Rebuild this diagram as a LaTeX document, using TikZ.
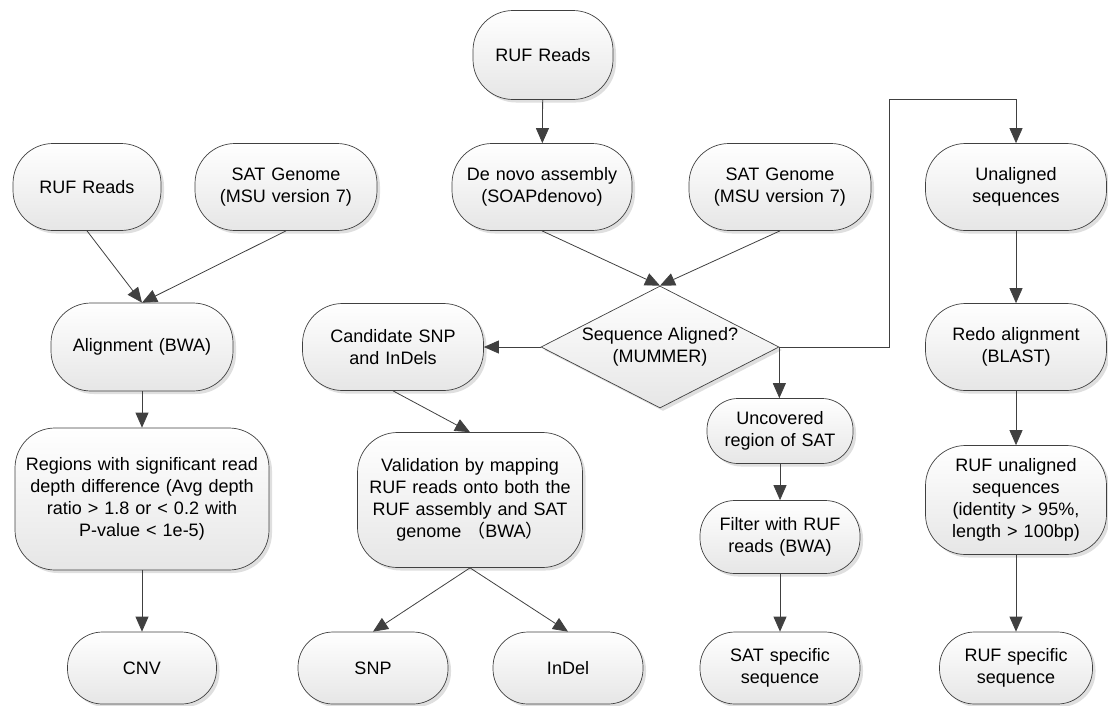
\documentclass[tikz,border=0pt]{standalone}
\usepackage{fontspec}
\setmainfont{Liberation Sans}
\newfontfamily\cjk{Noto Sans CJK SC}
\usetikzlibrary{shapes.geometric,arrows.meta,shadows}
\definecolor{edgegray}{HTML}{404040}
\definecolor{fillbot}{HTML}{E6E6E6}
\tikzset{
  flowbox/.style={rectangle, rounded corners=40pt, draw=edgegray, line width=0.7pt,
    top color=white, bottom color=fillbot, align=center, inner sep=0pt,
    font=\fontsize{18}{22}\selectfont,
    drop shadow={shadow xshift=3pt, shadow yshift=-3pt, fill=black!25, opacity=0.5}},
  sz/.style 2 args={minimum width=#1pt, minimum height=#2pt, text width=#1pt-16pt},
  decision/.style={diamond, draw=edgegray, line width=0.7pt, top color=white, bottom color=fillbot,
    align=center, inner sep=0pt, aspect=1.95, minimum width=238pt, minimum height=122pt,
    font=\fontsize{18}{22}\selectfont,
    drop shadow={shadow xshift=3pt, shadow yshift=-3pt, fill=black!25, opacity=0.5}},
  arr/.style={draw=edgegray, line width=0.8pt, -{Triangle[length=15pt,width=13pt]}, color=edgegray},
}
\begin{document}
\begin{tikzpicture}[x=1pt,y=-1pt]
\useasboundingbox (0,0) rectangle (1108,705);
% top row
\node[flowbox, sz={140}{89}] (ruf1) at (543,55) {RUF Reads};
\node[flowbox, sz={148}{87}] (ruf0) at (87,187) {RUF Reads};
\node[flowbox, sz={182}{87}] (sat1) at (286,187) {SAT Genome\\(MSU version 7)};
\node[flowbox, sz={180}{87}] (denovo) at (542,187) {De novo assembly\\(SOAPdenovo)};
\node[flowbox, sz={182}{87}] (sat2) at (780,187) {SAT Genome\\(MSU version 7)};
\node[flowbox, sz={181}{87}] (unal) at (1016,187) {Unaligned\\sequences};
% middle row
\node[flowbox, sz={182}{88}] (align) at (142,347) {Alignment (BWA)};
\node[flowbox, sz={181}{87}] (cand) at (393,347) {Candidate SNP\\and InDels};
\node[decision] (dec) at (660,347) {Sequence Aligned?\\(MUMMER)};
\node[flowbox, sz={181}{87}] (redo) at (1016,347) {Redo alignment\\(BLAST)};
% lower rows
\node[flowbox, sz={254}{142}] (regions) at (142,499) {Regions with significant read\\depth difference (Avg depth\\ratio > 1.8 or < 0.2 with\\P-value < 1e-5)};
\node[flowbox, sz={225}{135}] (valid) at (470,500) {Validation by mapping\\RUF reads onto both the\\RUF assembly and SAT\\genome {\cjk （}BWA{\cjk ）}};
\node[flowbox, rounded corners=31pt, sz={146}{65}] (uncov) at (780,431) {Uncovered\\region of SAT};
\node[flowbox, rounded corners=35pt, sz={160}{73}] (filter) at (780,537) {Filter with RUF\\reads (BWA)};
\node[flowbox, sz={181}{109}] (rufun) at (1016,500) {RUF unaligned\\sequences\\(identity > 95\%,\\length > 100bp)};
% bottom row
\node[flowbox, rounded corners=35pt, sz={149}{72}] (cnv) at (142,668) {CNV};
\node[flowbox, rounded corners=35pt, sz={150}{72}] (snp) at (373,668) {SNP};
\node[flowbox, rounded corners=35pt, sz={150}{72}] (indel) at (568,668) {InDel};
\node[flowbox, rounded corners=35pt, sz={160}{72}] (satspec) at (780,668) {SAT specific\\sequence};
\node[flowbox, rounded corners=35pt, sz={153}{72}] (rufspec) at (1016,668) {RUF specific\\sequence};
\coordinate (bend) at (889,99);
% connectors
\draw[arr] (ruf1) -- (denovo);
\draw[arr] (denovo.south) -- (dec.north);
\draw[arr] (sat2.south) -- (dec.north);
\draw[arr] (ruf0.south) -- (align.north);
\draw[arr] (sat1.south) -- (align.north);
\draw[arr] (align) -- (regions);
\draw[arr] (regions) -- (cnv);
\draw[arr] (dec.west) -- (cand.east);
\draw[arr] (cand.south) -- (valid.north);
\draw[arr] (valid.south) -- (snp.north);
\draw[arr] (valid.south) -- (indel.north);
\draw[arr] (dec.east) -- (dec.east |- uncov.north);
\draw[arr] (uncov) -- (filter);
\draw[arr] (filter) -- (satspec);
\draw[arr] (dec.east) -| (bend) -| (unal.north);
\draw[arr] (unal) -- (redo);
\draw[arr] (redo) -- (rufun);
\draw[arr] (rufun) -- (rufspec);
\end{tikzpicture}
\end{document}
